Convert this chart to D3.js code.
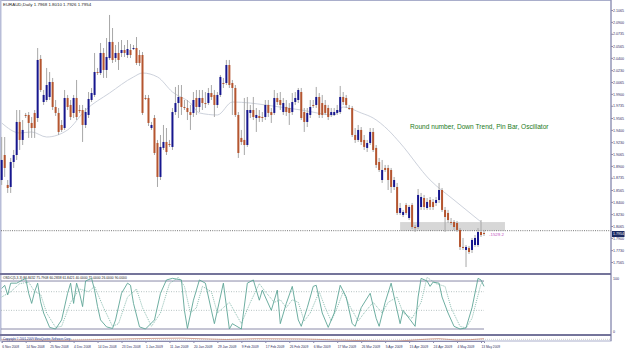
<!DOCTYPE html>
<html>
<head>
<meta charset="utf-8">
<script src="https://cdn.jsdelivr.net/npm/d3@7"></script>
<style>
    body { margin: 0; background: #fff; }
    svg { display: block; font-family: "Liberation Sans", Arial, sans-serif; }
</style>
</head>
<body>
<svg id="chart" width="625" height="350"></svg>
<script>
// ---- data ----
const symbol = "EURAUD,Daily";

const opens = [1.8704,1.9051,1.8635,1.8607,1.8954,1.9051,1.9510,1.9260,1.9607,1.9607,1.9496,1.9635,1.9565,2.0385,1.9787,1.9815,1.9857,2.0065,1.9718,1.9635,
1.9468,1.9426,1.9843,1.9746,1.9635,1.9843,1.9676,1.9676,1.9468,1.9607,1.9815,1.9885,2.0204,2.0190,2.0468,2.0232,2.0398,2.0621,2.0398,2.0468,
2.0468,2.0509,2.0440,2.0509,2.0523,2.0537,2.0440,2.0440,1.9843,1.9843,1.9426,1.9565,1.9218,1.8746,1.9149,1.9232,1.9204,1.9163,1.9648,1.9773,
1.9857,1.9718,1.9704,1.9648,1.9635,1.9843,1.9718,1.9843,1.9773,1.9773,1.9912,1.9885,1.9746,1.9885,2.0051,2.0051,2.0301,2.0051,1.9982,1.9607,
1.9288,1.9260,1.9190,1.9635,1.9676,1.9565,1.9593,1.9579,1.9579,1.9746,1.9648,1.9635,1.9843,1.9815,1.9648,1.9718,1.9704,1.9648,1.9787,1.9815,
1.9926,1.9648,1.9510,1.9607,1.9746,1.9746,1.9857,1.9773,1.9746,1.9704,1.9607,1.9607,1.9635,1.9648,1.9857,1.9843,1.9704,1.9704,1.9329,1.9260,
1.9399,1.9260,1.9149,1.9218,1.9371,1.9149,1.8954,1.8704,1.8871,1.8871,1.8843,1.8607,1.8607,1.8246,1.8218,1.8357,1.8176,1.8357,1.8051,1.8051,
1.8329,1.8454,1.8315,1.8426,1.8399,1.8385,1.8426,1.8565,1.8288,1.8246,1.8121,1.8121,1.8107,1.8010,1.7774,1.7732,1.7760,1.7732,1.7801,1.7801,
1.7982,1.7968];
const highs = [1.9301,1.9301,1.8704,1.9010,1.9121,1.9676,1.9676,1.9537,1.9635,1.9648,1.9579,1.9676,2.0537,2.0440,1.9954,2.0260,2.0204,2.0121,1.9815,1.9704,
1.9537,1.9954,1.9885,1.9815,1.9885,2.0093,1.9746,1.9746,1.9704,1.9926,1.9982,2.0468,2.0260,2.0607,2.0537,2.0676,2.0996,2.0815,2.0579,2.0621,
2.0648,2.0579,2.0648,2.0593,2.0579,2.0690,2.0509,2.0482,1.9885,1.9885,1.9510,1.9607,1.9260,1.9329,1.9468,1.9426,1.9260,1.9704,1.9996,2.0023,
2.0023,1.9815,1.9815,1.9746,1.9926,1.9954,1.9954,1.9954,1.9926,1.9982,2.0023,1.9954,1.9926,2.0162,2.0121,2.0371,2.0371,2.0093,2.0023,1.9648,
1.9399,1.9843,1.9857,1.9746,1.9857,1.9704,1.9676,1.9648,1.9815,1.9815,1.9704,1.9954,1.9912,1.9926,1.9843,1.9815,1.9773,1.9912,1.9926,1.9982,
1.9982,1.9704,1.9704,1.9815,1.9815,1.9996,1.9912,1.9885,1.9815,1.9746,1.9704,1.9704,1.9746,2.0010,1.9926,1.9885,1.9746,1.9732,1.9426,1.9468,
1.9440,1.9329,1.9260,1.9426,1.9426,1.9190,1.9010,1.8982,1.8913,1.8913,1.8871,1.8746,1.8663,1.8385,1.8288,1.8385,1.8357,1.8385,1.8079,1.8579,
1.8524,1.8496,1.8454,1.8468,1.8440,1.8468,1.8663,1.8593,1.8329,1.8288,1.8176,1.8148,1.8135,1.8037,1.7899,1.7801,1.7788,1.7899,1.7940,1.8037,
1.8148,1.8010];
const lows = [1.8635,1.8746,1.8524,1.8524,1.8871,1.8982,1.9121,1.9190,1.9565,1.9288,1.9288,1.9288,1.9510,1.9926,1.9746,1.9787,1.9815,1.9676,1.9593,1.9329,
1.9371,1.9399,1.9676,1.9537,1.9565,1.9537,1.9635,1.9232,1.9426,1.9565,1.9787,1.9857,2.0162,2.0162,2.0121,2.0121,2.0371,2.0329,2.0343,2.0232,
2.0412,2.0412,2.0398,2.0398,2.0509,2.0301,2.0287,1.9607,1.9815,1.9454,1.9399,1.9051,1.8607,1.8704,1.9121,1.9051,1.9163,1.9121,1.9607,1.9565,
1.9607,1.9676,1.9537,1.9399,1.9579,1.9607,1.9648,1.9676,1.9704,1.9746,1.9815,1.9579,1.9704,1.9857,1.9982,2.0023,1.9982,1.9607,1.9579,1.9010,
1.9190,1.9051,1.9163,1.9565,1.9537,1.9371,1.9510,1.9510,1.9537,1.9579,1.9496,1.9607,1.9746,1.9676,1.9607,1.9593,1.9468,1.9607,1.9746,1.9773,
1.9537,1.9371,1.9440,1.9565,1.9704,1.9704,1.9565,1.9565,1.9607,1.9537,1.9579,1.9593,1.9607,1.9621,1.9746,1.9704,1.9676,1.9301,1.9218,1.9232,
1.9190,1.9121,1.9093,1.9190,1.9093,1.8871,1.8815,1.8663,1.8815,1.8565,1.8524,1.8565,1.8218,1.8218,1.8190,1.8218,1.8148,1.8024,1.7982,1.8024,
1.8288,1.8288,1.8288,1.8288,1.8288,1.8343,1.8385,1.8260,1.7982,1.8107,1.8079,1.8010,1.7982,1.7732,1.7732,1.7495,1.7676,1.7690,1.7774,1.7774,
1.7913,1.7926];
const closes = [1.8982,1.8871,1.8593,1.8954,1.9051,1.9510,1.9260,1.9399,1.9593,1.9496,1.9426,1.9426,2.0371,1.9954,1.9885,2.0023,2.0065,1.9718,1.9635,1.9371,
1.9399,1.9843,1.9718,1.9579,1.9843,1.9579,1.9662,1.9468,1.9648,1.9829,1.9912,2.0204,2.0190,2.0468,2.0232,2.0412,2.0621,2.0371,2.0468,2.0371,
2.0509,2.0468,2.0523,2.0440,2.0537,2.0329,2.0329,1.9635,1.9829,1.9496,1.9468,1.9079,1.8746,1.9163,1.9232,1.9093,1.9190,1.9648,1.9773,1.9857,
1.9718,1.9704,1.9648,1.9607,1.9815,1.9718,1.9843,1.9773,1.9760,1.9912,1.9857,1.9746,1.9885,2.0135,2.0037,2.0301,2.0023,1.9982,1.9607,1.9079,
1.9232,1.9190,1.9676,1.9676,1.9579,1.9607,1.9565,1.9565,1.9746,1.9635,1.9607,1.9843,1.9787,1.9746,1.9773,1.9648,1.9635,1.9787,1.9843,1.9954,
1.9565,1.9510,1.9635,1.9718,1.9732,1.9857,1.9607,1.9607,1.9635,1.9579,1.9648,1.9648,1.9676,1.9857,1.9787,1.9746,1.9690,1.9329,1.9260,1.9399,
1.9232,1.9163,1.9218,1.9371,1.9121,1.8913,1.8843,1.8843,1.8843,1.8704,1.8607,1.8704,1.8246,1.8315,1.8260,1.8246,1.8329,1.8051,1.8037,1.8496,
1.8468,1.8329,1.8399,1.8329,1.8329,1.8426,1.8565,1.8288,1.8190,1.8148,1.8107,1.8051,1.8010,1.7774,1.7760,1.7774,1.7704,1.7871,1.7899,1.7982,
1.7940,1.7954];

// moving average, read at a few bars
const maIdx = [0, 6, 10, 15, 22, 28, 36, 44, 47, 52, 57, 63, 66, 72, 77, 83, 88, 100, 111, 114, 120, 124, 129, 133, 143, 151, 160];
const maVal = [1.9496,1.9357,1.9371,1.9301,1.9399,1.9676,1.9912,2.0135,2.0190,2.0135,1.9926,1.9773,1.9635,1.9607,1.9787,1.9773,1.9746,1.9676,1.9607,1.9718,1.9635,1.9565,1.9399,1.9218,1.8704,1.8426,1.8121];

// oscillator (main + signal), read at turning points
const oscIdx = [0,1,2,3,5,7,8,9,10,11,12,13,14,16,18,20,22,23,24,25,26,27,28,30,31,32,33,35,37,38,40,42,43,44,46,48,51,53,55,57,60,61,62,64,66,68,70,71,72,74,76,77,80,82,84,86,87,88,90,92,93,95,97,99,100,102,104,105,107,109,111,113,115,117,118,120,123,125,126,128,130,131,133,134,136,138,139,140,142,143,144,146,147,149,151,153,155,157,159,160,161];
const oscMain = [76,82,64,86,86,92,95,67,48,70,86,51,30,3,0,17,67,86,48,86,67,42,90,95,73,42,17,4,1,17,67,86,82,48,4,0,17,67,92,95,92,35,1,54,92,86,35,10,35,86,0,10,0,86,92,54,73,60,35,73,10,48,80,17,5,40,80,82,30,3,30,82,60,10,5,40,67,20,5,50,86,60,10,35,20,5,60,95,90,80,88,86,60,30,5,0,2,40,95,92,80];
const sigIdx = [0,3,6,9,11,13,15,18,20,23,26,29,31,34,37,39,42,45,47,50,53,56,59,61,63,65,67,70,72,74,76,78,80,83,86,88,91,93,95,97,99,101,103,106,108,110,112,114,116,119,121,124,127,129,132,134,137,140,142,145,148,150,153,155,157,160,161];
const oscSig = [60,70,85,88,70,65,30,3,5,50,75,70,80,40,5,10,60,75,40,5,30,85,97,80,30,40,80,70,30,40,50,30,10,50,85,70,50,55,40,55,50,15,30,70,40,15,40,70,45,15,30,50,30,50,60,30,20,50,97,85,80,40,5,2,20,85,90];
const oscLevels = [90, 70, 35, 0];

// small bottom indicator
const subIdx = [0, 20, 40, 60, 75, 85, 100, 110, 120, 130, 140, 146, 152, 161];
const subVal = [40, 30, 55, 70, 45, 60, 55, 40, 25, 15, 45, 60, 35, 60];

// axes
const priceTicks = [1.7565,1.7730,1.7900,1.8065,1.8230,1.8400,1.8565,1.8735,1.8900,1.9065,1.9230,1.9400,1.9565,1.9735,1.9900,2.0065,2.0230,2.0400,2.0565,2.0735,2.0900,2.1065];
const dateLabels = ["6 Nov 2008","14 Nov 2008","25 Nov 2008","4 Dec 2008","14 Dec 2008","23 Dec 2008","1 Jan 2009","11 Jan 2009","20 Jan 2009","29 Jan 2009","9 Feb 2009","17 Feb 2009","26 Feb 2009","6 Mar 2009","17 Mar 2009","26 Mar 2009","5 Apr 2009","15 Apr 2009","24 Apr 2009","4 May 2009","13 May 2009"];
const dateIdx = dateLabels.map((d, i) => i * 8);

// annotation
const roundLevel = 1.8000;
const zone = [133, 168, 1.8000, 1.8120];
const note = "Round number, Down Trend, Pin Bar, Oscillator";

const svg = d3.select("#chart");
const x = d3.scaleLinear().domain([0, 161]).range([1.7, 484]);
const y = d3.scaleLinear().domain([1.7565, 2.1065]).range([262, 10]);
const yOsc = d3.scaleLinear().domain([0, 100]).range([329, 275.7]);
const ySub = d3.scaleLinear().domain([0, 100]).range([342, 336.5]);
const axisColor = "#8a8aae";
const textColor = "#2e2e5e";

// squeeze tiny MT4 style labels into their slot
function fit(sel, perChar) {
    sel.attr("textLength", function () { return this.textContent.length * perChar; })
        .attr("lengthAdjust", "spacingAndGlyphs");
}

// frame
svg.append("rect").attr("x", 0.5).attr("y", 0.5).attr("width", 610.5).attr("height", 340.5)
    .attr("fill", "#fff").attr("stroke", "#a9aecb");
svg.append("rect").attr("x", 0).attr("y", 0).attr("width", 1.5).attr("height", 341).attr("fill", "#b8bdd8");

// zone box and round level
svg.append("rect")
    .attr("x", x(zone[0])).attr("width", x(zone[1]) - x(zone[0]))
    .attr("y", y(zone[3])).attr("height", y(zone[2]) - y(zone[3]))
    .attr("fill", "#d3d3d3").attr("opacity", 0.9);
svg.append("line").attr("x1", 1).attr("x2", 611)
    .attr("y1", y(roundLevel)).attr("y2", y(roundLevel))
    .attr("stroke", "#555").attr("stroke-width", 0.8).attr("stroke-dasharray", "1,1.2");

// moving average
svg.append("path")
    .datum(maIdx.map((d, i) => [d, maVal[i]]))
    .attr("fill", "none").attr("stroke", "#cdd2dc").attr("stroke-width", 1)
    .attr("d", d3.line().x(d => x(d[0])).y(d => y(d[1])).curve(d3.curveMonotoneX));

// candles
const bars = d3.range(opens.length);
const g = svg.append("g");
g.selectAll("line.wick").data(bars).enter().append("line")
    .attr("class", "wick")
    .attr("x1", i => x(i)).attr("x2", i => x(i))
    .attr("y1", i => y(highs[i])).attr("y2", i => y(lows[i]))
    .attr("stroke", "#a8a8a8").attr("stroke-width", 1);
g.selectAll("rect.body").data(bars).enter().append("rect")
    .attr("class", "body")
    .attr("x", i => x(i) - 1).attr("width", 2)
    .attr("y", i => y(Math.max(opens[i], closes[i])))
    .attr("height", i => Math.max(1, Math.abs(y(opens[i]) - y(closes[i]))))
    .attr("fill", i => closes[i] >= opens[i] ? "#17178f" : "#b5552f");

// price axis
const ax = svg.append("g").attr("transform", "translate(611,0)")
    .call(d3.axisRight(y).tickValues(priceTicks).tickFormat(d3.format(".4f")).tickSize(2));
ax.select(".domain").remove();
ax.selectAll("line").attr("stroke", axisColor);
ax.selectAll("text").attr("x", 2).attr("font-size", 3.6).attr("fill", textColor)
    .attr("font-family", "Liberation Sans, Arial");
svg.append("line").attr("x1", 611).attr("x2", 611).attr("y1", 0).attr("y2", 341).attr("stroke", axisColor);

// last price box
const last = closes[closes.length - 1];
svg.append("rect").attr("x", 612).attr("y", y(last) - 3).attr("width", 12.5).attr("height", 6).attr("fill", "#1b2a63");
svg.append("text").attr("x", 613).attr("y", y(last) + 1.4).attr("font-size", 3.6).attr("fill", "#fff")
    .text(last.toFixed(4));
svg.append("text").attr("x", x(161) + 5).attr("y", y(last) + 2).attr("font-size", 4.4).attr("fill", "#c24fc2").text("-1529.2");

// header and note
const n = opens.length - 1;
svg.append("text").attr("x", 3).attr("y", 6).attr("font-size", 4.4).attr("fill", "#222")
    .text(symbol + "  " + [opens[n], highs[n], lows[n], closes[n]].map(v => v.toFixed(4)).join(" "));
svg.append("text").attr("x", 410).attr("y", 129).attr("font-size", 6.6).attr("fill", "#1d7a1d").text(note);

// panel separators
[274, 335].forEach(s => svg.append("rect").attr("x", 0).attr("y", s - 1).attr("width", 611).attr("height", 2).attr("fill", "#74749a"));

// oscillator
svg.append("text").attr("x", 3).attr("y", 279).attr("font-size", 4).attr("fill", "#222")
    .text("OSDC(5,3,3) 86.8432 75.7908 60.2838 61.8421 40.0000 75.0000 26.0000 90.0000").call(fit, 1.65);
oscLevels.forEach(l => svg.append("line")
    .attr("x1", 1).attr("x2", x(161)).attr("y1", yOsc(l)).attr("y2", yOsc(l))
    .attr("stroke", l === 90 || l === 0 ? "#8a8aa8" : "#9aa")
    .attr("stroke-width", l === 90 || l === 0 ? 1 : 0.7)
    .attr("stroke-dasharray", l === 90 || l === 0 ? null : "1,1.5"));
const oscLine = d3.line().x(d => x(d[0])).y(d => yOsc(d[1]));
svg.append("path").datum(sigIdx.map((d, i) => [d, oscSig[i]]))
    .attr("fill", "none").attr("stroke", "#7fb5a8").attr("stroke-width", 0.9).attr("stroke-dasharray", "1,1")
    .attr("d", oscLine);
svg.append("path").datum(oscIdx.map((d, i) => [d, oscMain[i]]))
    .attr("fill", "none").attr("stroke", "#5ea596").attr("stroke-width", 0.9)
    .attr("d", oscLine);
svg.append("text").attr("x", 613).attr("y", 280).attr("font-size", 3.6).attr("fill", textColor).text("100");
svg.append("text").attr("x", 613).attr("y", 333).attr("font-size", 3.6).attr("fill", textColor).text("0");

// bottom panel
svg.append("line").attr("x1", 1).attr("x2", 611).attr("y1", 339.3).attr("y2", 339.3)
    .attr("stroke", "#aaa").attr("stroke-width", 0.6).attr("stroke-dasharray", "1,1");
svg.append("path").datum(subIdx.map((d, i) => [d, subVal[i]]))
    .attr("fill", "none").attr("stroke", "#c0806a").attr("stroke-width", 0.7)
    .attr("d", d3.line().x(d => x(d[0])).y(d => ySub(d[1])).curve(d3.curveMonotoneX));
svg.append("text").attr("x", 3).attr("y", 340).attr("font-size", 4).attr("fill", "#2a3f9a")
    .text("Copyright © 2001-2009 MetaQuotes Software Corp.").call(fit, 1.45);

// date axis
const dx = svg.append("g").attr("transform", "translate(0,341)")
    .call(d3.axisBottom(x).tickValues(dateIdx).tickFormat((d, i) => dateLabels[i]).tickSize(2));
dx.select(".domain").attr("stroke", axisColor);
dx.selectAll("line").attr("stroke", axisColor);
dx.selectAll("text").attr("text-anchor", "start").attr("dy", 0).attr("y", 7)
    .attr("font-size", 4.2).attr("fill", textColor).attr("font-family", "Liberation Sans, Arial")
    .call(fit, 1.68);
</script>
</body>
</html>
